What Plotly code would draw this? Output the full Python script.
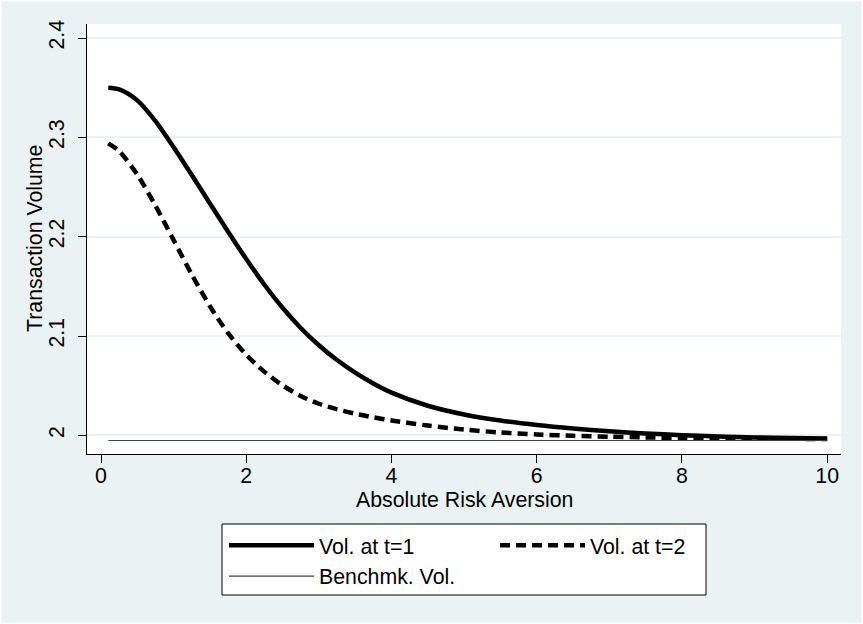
import plotly.graph_objects as go

# ---- data ----
x_vals = [0.1, 0.25, 0.5, 0.75, 1.0, 1.25, 1.5, 1.75, 2.0, 2.25, 2.5, 2.75,
          3.0, 3.25, 3.5, 3.75, 4.0, 4.5, 5.0, 5.5, 6.0, 6.5, 7.0, 7.5, 8.0,
          8.5, 9.0, 9.5, 10.0]
vol_t1 = [2.3500, 2.3483, 2.3372, 2.3163, 2.2900, 2.2620, 2.2334, 2.2050,
          2.1775, 2.1516, 2.1284, 2.1081, 2.0907, 2.0758, 2.0631, 2.0522,
          2.0430, 2.0298, 2.0210, 2.0149, 2.0104, 2.0069, 2.0041, 2.0019,
          2.0002, 1.9989, 1.9979, 1.9972, 1.9967]
vol_t2 = [2.2940, 2.2861, 2.2624, 2.2311, 2.1965, 2.1619, 2.1300, 2.1029,
          2.0811, 2.0639, 2.0503, 2.0397, 2.0318, 2.0262, 2.0218, 2.0181,
          2.0150, 2.0098, 2.0058, 2.0029, 2.0009, 1.9995, 1.9986, 1.9979,
          1.9974, 1.9970, 1.9967, 1.9965, 1.9963]
bench = [1.9948] * len(x_vals)

series_names = ["Vol. at t=1", "Vol. at t=2", "Benchmk. Vol."]
x_ticks = [0, 2, 4, 6, 8, 10]
y_ticks = [2.0, 2.1, 2.2, 2.3, 2.4]
y_tick_text = ["2", "2.1", "2.2", "2.3", "2.4"]
x_title = "Absolute Risk Aversion"
y_title = "Transaction Volume"

# ---- layout constants ----
W, H = 863, 624
L, R, T, B = 87, 22, 24, 170
PW, PH = W - L - R, H - T - B
BG = "#EAF2F3"
FONT = "Liberation Sans, Arial, Helvetica, sans-serif"
FS = 21.3


def px_x(p):
    return (p - L) / PW


def px_y(p):
    return (H - B - p) / PH


fig = go.Figure()
fig.add_trace(go.Scatter(
    x=x_vals, y=vol_t1, mode="lines", name=series_names[0],
    line=dict(color="black", width=4.5, shape="spline", smoothing=0.8),
    legend="legend"))
fig.add_trace(go.Scatter(
    x=x_vals, y=vol_t2, mode="lines", name=series_names[1],
    line=dict(color="black", width=4.5, dash="10px,6px", shape="spline", smoothing=0.8),
    legend="legend2"))
fig.add_trace(go.Scatter(
    x=x_vals, y=bench, mode="lines", name=series_names[2],
    line=dict(color="#404040", width=1.2),
    legend="legend"))

legend_common = dict(
    orientation="v", bgcolor="rgba(0,0,0,0)", borderwidth=0,
    font=dict(family=FONT, size=FS, color="black"),
    itemwidth=85, tracegroupgap=0,
    xanchor="left", yanchor="top", itemclick=False, itemdoubleclick=False,
)

fig.update_layout(
    width=W, height=H,
    margin=dict(l=L, r=R, t=T, b=B, autoexpand=False),
    paper_bgcolor=BG, plot_bgcolor="white",
    font=dict(family=FONT, size=FS, color="black"),
    showlegend=True,
    legend=dict(**legend_common, x=px_x(224), y=px_y(525)),
    legend2=dict(**legend_common, x=px_x(495), y=px_y(525)),
    xaxis=dict(
        range=[-0.193, 10.19], tickvals=x_ticks, ticks="outside", ticklen=8,
        tickwidth=1, tickcolor="black", showline=True, linecolor="black",
        linewidth=1.2, showgrid=False, zeroline=False,
        tickfont=dict(size=FS), ticklabelstandoff=-6,
    ),
    yaxis=dict(
        range=[1.9812, 2.4141], tickvals=y_ticks, ticktext=y_tick_text,
        ticks="outside", ticklen=8, tickwidth=1, tickcolor="black",
        showline=True, linecolor="black", linewidth=1.2,
        showgrid=True, gridcolor=BG, gridwidth=1.5, zeroline=False,
        tickangle=-90, tickfont=dict(size=FS), ticklabelstandoff=5,
    ),
    annotations=[
        dict(text=x_title, xref="paper", yref="paper", x=px_x(464), y=px_y(500),
             xanchor="center", yanchor="middle", showarrow=False,
             font=dict(family=FONT, size=FS, color="black")),
        dict(text=y_title, xref="paper", yref="paper", x=px_x(35), y=px_y(239),
             xanchor="center", yanchor="middle", showarrow=False, textangle=-90,
             font=dict(family=FONT, size=FS, color="black")),
    ],
    shapes=[
        # legend frame
        dict(type="rect", xref="paper", yref="paper",
             x0=px_x(222), x1=px_x(706), y0=px_y(595), y1=px_y(524),
             line=dict(color="black", width=1), fillcolor="white", layer="below"),
        # thin white outer border of the graph region
        dict(type="rect", xref="paper", yref="paper",
             x0=px_x(0), x1=px_x(W), y0=px_y(H), y1=px_y(0),
             line=dict(color="white", width=3), fillcolor="rgba(0,0,0,0)", layer="below"),
    ],
)

fig.write_html("out.html")
